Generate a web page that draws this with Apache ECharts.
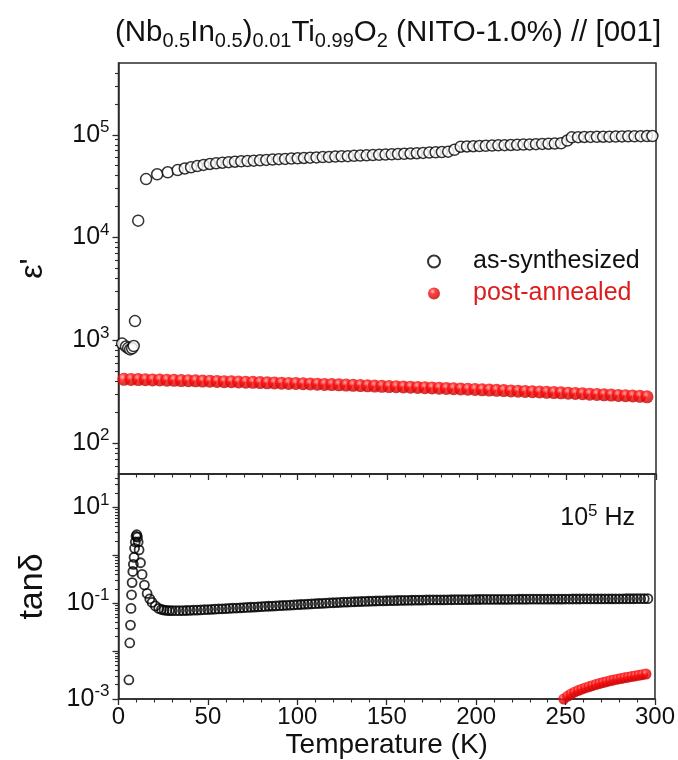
<!DOCTYPE html>
<html><head><meta charset="utf-8">
<script src="https://cdn.jsdelivr.net/npm/echarts@6/dist/echarts.min.js"></script>
<style>html,body{margin:0;padding:0;background:#fff}#c{width:678px;height:760px}</style>
</head><body><div id="c"></div>
<script>
const seriesNames = ['as-synthesized', 'post-annealed'];

// epsilon' (top panel): [T (K), value]
const asSynEps = [[2.0,930],[4.2,870],[5.4,840],[6.5,815],[7.6,835],[8.5,880],[9.2,1540],[11.0,14600],[15.4,37100],[21.6,41300],[27.5,43200],[33.0,45400],[37.0,47000],[40.5,48300],[44.0,49600],[47.5,50900],[51.0,52000],[54.5,52800],[58.0,53500],[61.5,54200],[65.0,54700],[68.5,55200],[72.0,55500],[75.5,56000],[79.0,56500],[82.5,57000],[86.0,57400],[89.5,57900],[93.0,58300],[96.5,58700],[100.0,59100],[103.5,59500],[107.0,59900],[110.5,60300],[114.0,60700],[117.5,61000],[121.0,61400],[124.5,61700],[128.0,62000],[131.5,62400],[135.0,62800],[138.5,63100],[142.0,63500],[145.5,63800],[149.0,64200],[152.5,64600],[156.0,65000],[159.5,65400],[163.0,65800],[166.5,66200],[170.0,66700],[173.5,67100],[177.0,67600],[180.5,68000],[184.0,68500],[187.5,71500],[191.0,76600],[194.5,77000],[198.0,77400],[201.5,77800],[205.0,78200],[208.5,78600],[212.0,79000],[215.5,79300],[219.0,79600],[222.5,79900],[226.0,80300],[229.5,80700],[233.0,81100],[236.5,81500],[240.0,81900],[243.5,82200],[247.0,82600],[250.5,88000],[253.0,94600],[256.5,94900],[260.0,95200],[263.5,95400],[267.0,95600],[270.5,95800],[274.0,96000],[277.5,96200],[281.0,96400],[284.5,96600],[288.0,96800],[291.5,97000],[295.0,97200],[298.0,97300]];

const annEps = [[3,417],[7,416],[11,415],[15,414],[19,412],[23,411],[27,409],[31,408],[35,406],[39,405],[43,403],[47,401],[51,400],[55,398],[59,396],[63,395],[67,393],[71,391],[75,390],[79,388],[83,386],[87,385],[91,383],[95,381],[99,380],[103,378],[107,376],[111,374],[115,372],[119,371],[123,369],[127,367],[131,365],[135,363],[139,361],[143,359],[147,357],[151,355],[155,354],[159,352],[163,350],[167,348],[171,346],[175,344],[179,342],[183,340],[187,338],[191,336],[195,334],[199,332],[203,330],[207,328],[211,326],[215,324],[219,322],[223,320],[227,318],[231,316],[235,314],[239,312],[243,310],[247,308],[251,306],[255,304],[259,302],[263,299],[267,297],[271,295],[275,293],[279,291],[283,289],[287,287],[291,285],[295,282]];

// tan(delta) (bottom panel): [T (K), value]
const asSynTan = [[5.8,0.0025],[6.3,0.0148],[6.7,0.035],[7.0,0.078],[7.3,0.15],[7.6,0.27],[8.0,0.46],[8.3,0.65],[8.7,0.91],[9.0,1.4],[9.4,1.9],[9.8,2.5],[10.2,2.7],[10.6,2.4],[11.0,1.9],[11.5,1.3],[12.3,0.70],[13.2,0.40],[14.5,0.24],[16.0,0.16],[17.5,0.123],[18.8,0.104],[20.6,0.088],[22.5,0.078],[24.0,0.074],[25.5,0.072],[27.0,0.071],[28.5,0.070],[30.0,0.070],
[32,0.0700],[34,0.0700],[36,0.0702],[38,0.0705],[40,0.0710],[42,0.0715],[44,0.0720],[46,0.0726],[48,0.0732],[50,0.0738],[52,0.0745],[54,0.0752],[56,0.0759],[58,0.0766],[60,0.0773],[62,0.0780],[64,0.0787],[66,0.0794],[68,0.0801],[70,0.0808],[72,0.0816],[74,0.0824],[76,0.0832],[78,0.0840],[80,0.0848],[82,0.0856],[84,0.0864],[86,0.0872],[88,0.0880],[90,0.0888],[92,0.0897],[94,0.0906],[96,0.0915],[98,0.0924],[100,0.0933],[102,0.0942],[104,0.0951],[106,0.0960],[108,0.0969],[110,0.0978],[112,0.0987],[114,0.0996],[116,0.1005],[118,0.1014],[120,0.1023],[122,0.1032],[124,0.1041],[126,0.1050],[128,0.1058],[130,0.1066],[132,0.1074],[134,0.1081],[136,0.1088],[138,0.1095],[140,0.1101],[142,0.1107],[144,0.1113],[146,0.1118],[148,0.1123],[150,0.1128],[152,0.1133],[154,0.1137],[156,0.1141],[158,0.1145],[160,0.1149],[162,0.1152],[164,0.1155],[166,0.1158],[168,0.1161],[170,0.1164],[172,0.1167],[174,0.1170],[176,0.1172],[178,0.1174],[180,0.1176],[182,0.1178],[184,0.1180],[186,0.1182],[188,0.1184],[190,0.1186],[192,0.1188],[194,0.1190],[196,0.1192],[198,0.1194],[200,0.1196],[202,0.1198],[204,0.1200],[206,0.1201],[208,0.1202],[210,0.1203],[212,0.1204],[214,0.1205],[216,0.1206],[218,0.1207],[220,0.1208],[222,0.1209],[224,0.1210],[226,0.1211],[228,0.1212],[230,0.1213],[232,0.1214],[234,0.1215],[236,0.1216],[238,0.1217],[240,0.1218],[242,0.1219],[244,0.1220],[246,0.1221],[248,0.1222],[250,0.1223],[252,0.1224],[254,0.1225],[256,0.1226],[258,0.1227],[260,0.1228],[262,0.1229],[264,0.1230],[266,0.1231],[268,0.1232],[270,0.1233],[272,0.1234],[274,0.1235],[276,0.1236],[278,0.1237],[280,0.1238],[282,0.1239],[284,0.1240],[286,0.1241],[288,0.1242],[290,0.1243],[292,0.1244],[294,0.1245],[296,0.1246]];

const annTan = [[249,0.00100],[251,0.00114],[253,0.00127],[255,0.00139],[257,0.00150],[259,0.00160],[261,0.00170],[263,0.00180],[265,0.00190],[267,0.00200],[269,0.00210],[271,0.00220],[273,0.00230],[275,0.00240],[277,0.00250],[279,0.00259],[281,0.00268],[283,0.00277],[285,0.00286],[287,0.00295],[289,0.00304],[291,0.00313],[293,0.00322],[295,0.00331]];

// axis ticks
const xRange = [0, 300];
const xStep = 50;
const epsRange = [50, 500000];
const epsMajorTicks = [100, 1000, 10000, 100000];
const epsLabelTicks = [100, 1000, 10000, 100000];
const epsMinorTicks = [60,70,80,90,200,300,400,500,600,700,800,900,2000,3000,4000,5000,6000,7000,8000,9000,20000,30000,40000,50000,60000,70000,80000,90000,200000,300000,400000];
const tanRange = [0.001, 50];
const tanMajorTicks = [0.001, 0.01, 0.1, 1, 10];
const tanLabelTicks = [0.001, 0.1, 10];
const tanMinorTicks = [0.002,0.003,0.004,0.005,0.006,0.007,0.008,0.009,0.02,0.03,0.04,0.05,0.06,0.07,0.08,0.09,0.2,0.3,0.4,0.5,0.6,0.7,0.8,0.9,2,3,4,5,6,7,8,9,20,30,40];

const FONT = 'Liberation Sans, Arial, sans-serif';
const AX = '#2b2b2b';
const TXT = '#111';

const chart = echarts.init(document.getElementById('c'), null, {renderer: 'canvas'});

function powLabel(v) {
  const e = Math.round(Math.log10(v));
  return '{b|10}{s|' + e + '}';
}
const powRich = {
  b: {fontSize: 25, fontFamily: FONT, color: TXT, lineHeight: 32},
  s: {fontSize: 17, fontFamily: FONT, color: TXT, verticalAlign: 'top', lineHeight: 19}
};

const redBall = new echarts.graphic.RadialGradient(0.38, 0.32, 0.68, [
  {offset: 0, color: '#ffb4b4'},
  {offset: 0.35, color: '#ff1010'},
  {offset: 1, color: '#c40000'}
]);

const gridL = 118.5, gridW = 537.5;

function mainY(grid, range, major, labels, name, gap, nameSize) {
  return {
    type: 'log', gridIndex: grid, position: 'left', min: range[0], max: range[1],
    name: name, nameLocation: 'middle', nameGap: gap,
    nameTextStyle: {fontSize: nameSize, fontFamily: FONT, color: TXT},
    axisLine: {show: true, lineStyle: {color: AX, width: 1.5}},
    axisTick: {show: true, inside: false, length: 6, customValues: major, lineStyle: {color: AX, width: 1.3}},
    axisLabel: {show: true, margin: 9, customValues: labels, formatter: powLabel, rich: powRich},
    splitLine: {show: false}
  };
}
function minorY(grid, range, minor) {
  return {
    type: 'log', gridIndex: grid, position: 'left', min: range[0], max: range[1],
    axisLine: {show: false},
    axisTick: {show: true, inside: false, length: 3.5, customValues: minor, lineStyle: {color: AX, width: 1.1}},
    axisLabel: {show: false},
    splitLine: {show: false}
  };
}
function xAx(grid, withLabels) {
  return {
    type: 'value', gridIndex: grid, position: 'bottom', min: xRange[0], max: xRange[1], interval: xStep,
    name: withLabels ? 'Temperature (K)' : '', nameLocation: 'middle', nameGap: 32,
    nameTextStyle: {fontSize: 28, fontFamily: FONT, color: TXT},
    axisLine: {show: true, onZero: false, lineStyle: {color: AX, width: 1.5}},
    axisTick: {show: true, inside: false, length: 6, lineStyle: {color: AX, width: 1.3}},
    minorTick: {show: true, splitNumber: 5, length: 3.5, lineStyle: {color: AX, width: 1.1}},
    axisLabel: {show: withLabels, margin: 6, fontSize: 24, fontFamily: FONT, color: TXT},
    splitLine: {show: false}, minorSplitLine: {show: false}
  };
}

const option = {
  backgroundColor: '#fff',
  animation: false,
  grid: [
    {left: gridL, top: 63, width: gridW, height: 411, show: true, borderColor: AX, borderWidth: 1.5, backgroundColor: 'transparent'},
    {left: gridL, top: 474, width: gridW, height: 228, show: true, borderColor: AX, borderWidth: 1.5, backgroundColor: 'transparent'}
  ],
  xAxis: [xAx(0, false), xAx(1, true)],
  yAxis: [
    mainY(0, epsRange, epsMajorTicks, epsLabelTicks, "ε'", 69, 32),
    minorY(0, epsRange, epsMinorTicks),
    mainY(1, tanRange, tanMajorTicks, tanLabelTicks, 'tanδ', 69, 34),
    minorY(1, tanRange, tanMinorTicks)
  ],
  legend: {
    orient: 'vertical', left: 422, top: 244, itemWidth: 68, itemHeight: 12, itemGap: 7,
    selectedMode: false,
    textStyle: {fontSize: 25, fontFamily: FONT, lineHeight: 25},
    data: [
      {name: seriesNames[0], icon: 'circle', textStyle: {color: TXT}},
      {name: seriesNames[1], icon: 'circle', textStyle: {color: '#dd1c1c'}}
    ]
  },
  graphic: [
    {type: 'text', x: 388, y: 33, z: 10, style: {
      text: '{n|(Nb}{s|0.5}{n|In}{s|0.5}{n|)}{s|0.01}{n|Ti}{s|0.99}{n|O}{s|2}{n| (NITO-1.0%) // [001]}',
      align: 'center', verticalAlign: 'middle',
      rich: {
        n: {fontSize: 29.5, fontFamily: FONT, fill: TXT, lineHeight: 36},
        s: {fontSize: 20, fontFamily: FONT, fill: TXT, verticalAlign: 'bottom'}
      }
    }},
    {type: 'text', x: 635, y: 518, z: 10, style: {
      text: '{b|10}{s|5}{b| Hz}',
      align: 'right', verticalAlign: 'middle',
      rich: {
        b: {fontSize: 25, fontFamily: FONT, fill: TXT, lineHeight: 30},
        s: {fontSize: 17, fontFamily: FONT, fill: TXT, verticalAlign: 'top', lineHeight: 18}
      }
    }}
  ],
  series: [
    {name: seriesNames[0], type: 'scatter', xAxisIndex: 0, yAxisIndex: 0, data: asSynEps,
      symbol: 'circle', symbolSize: 11, itemStyle: {color: '#fff', borderColor: '#000', borderWidth: 1.5}},
    {name: seriesNames[1], type: 'scatter', xAxisIndex: 0, yAxisIndex: 0, data: annEps,
      symbol: 'circle', symbolSize: 13, itemStyle: {color: redBall, borderWidth: 0}},
    {name: seriesNames[0], type: 'scatter', xAxisIndex: 1, yAxisIndex: 2, data: asSynTan,
      symbol: 'circle', symbolSize: 9, itemStyle: {color: 'rgba(255,255,255,0)', borderColor: '#000', borderWidth: 1.8}},
    {name: seriesNames[1], type: 'scatter', xAxisIndex: 1, yAxisIndex: 2, data: annTan,
      symbol: 'circle', symbolSize: 11, itemStyle: {color: redBall, borderWidth: 0}}
  ]
};
chart.setOption(option);
</script>
</body></html>
